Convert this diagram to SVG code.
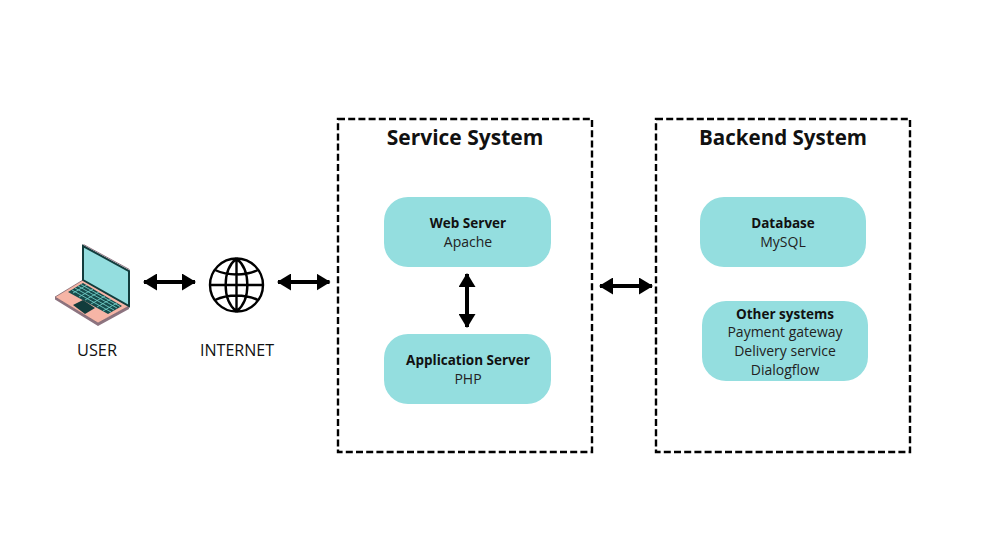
<svg xmlns="http://www.w3.org/2000/svg" width="984" height="554" viewBox="0 0 984 554">
<style>
text{font-family:"Open Sans","Noto Sans","Liberation Sans",sans-serif;fill:#111;text-anchor:middle}
.t{font-size:21px;font-weight:700}
.b{font-size:13.500px;font-weight:700}
.r{font-size:14px;fill:#222}
.l{font-size:16px;font-weight:400;fill:#111}
.sys{fill:none;stroke:#000;stroke-width:2.4;stroke-dasharray:7 3.2}
.box{fill:#94dedf}
.conn{fill:none;stroke:#000;stroke-width:4}
.head{fill:#000}
.g{fill:none;stroke:#000;stroke-width:2.400}
.key{fill:none;stroke:#6fc9c4;stroke-width:.9}
</style>
<defs>
<marker id="ah" viewBox="0 0 14 17" refX="13" refY="8.500" markerUnits="userSpaceOnUse" markerWidth="14" markerHeight="17" orient="auto-start-reverse"><path class="head" d="M0 0L14 8.500L0 17Z"/></marker>
</defs>
<rect width="984" height="554" fill="#fff"/>
<g id="service-system">
<rect class="sys" x="338" y="119" width="254" height="333"/>
<text class="t" x="465" y="145">Service System</text>
</g>
<g id="backend-system">
<rect class="sys" x="656" y="119" width="254" height="333"/>
<text class="t" x="783" y="145" textLength="168" lengthAdjust="spacingAndGlyphs">Backend System</text>
</g>
<g id="web-server">
<rect class="box" x="384" y="197" width="167" height="70" rx="24"/>
<text class="b" x="468" y="228">Web Server</text>
<text class="r" x="468" y="247">Apache</text>
</g>
<g id="application-server">
<rect class="box" x="384" y="334" width="167" height="70" rx="24"/>
<text class="b" x="468" y="365">Application Server</text>
<text class="r" x="468" y="384">PHP</text>
</g>
<g id="database">
<rect class="box" x="700" y="197" width="166" height="70" rx="24"/>
<text class="b" x="783" y="228">Database</text>
<text class="r" x="783" y="247">MySQL</text>
</g>
<g id="other-systems">
<rect class="box" x="702" y="301" width="166" height="80" rx="24"/>
<text class="b" x="785" y="319">Other systems</text>
<text class="r" x="785" y="337">Payment gateway</text>
<text class="r" x="785" y="356">Delivery service</text>
<text class="r" x="785" y="375">Dialogflow</text>
</g>
<g id="user">
<path d="M55 297L55 299.500L98 326L129 309L129 306L98 323Z" fill="#8d7480"/>
<path d="M55 297L83 280L129 306L98 323Z" fill="#f6b5a6" stroke="#6d5560" stroke-width=".7"/>
<path d="M83 246L129 271L129 306L83 280Z" fill="#94dedf" stroke="#123c3c" stroke-width="2"/>
<path d="M83 246L129 271" fill="none" stroke="#8d7480" stroke-width="1" transform="translate(.5 -1.500)"/>
<path d="M68 292L83 283L122 306L108 314Z" fill="#174c4c"/>
<path class="key" d="M72 290L111 312M75 288L114 310M78 286L117 308M81 284.500L120 306.500M73 293L87 285M79 297L93 289M85 300L99 292M91 304L105 296M97 307L111 299M103 311L117 303"/>
<path d="M73 305L83 300L95 308L85 314Z" fill="#123c3c"/>
<text class="l" x="97" y="356" textLength="40" lengthAdjust="spacingAndGlyphs">USER</text>
</g>
<g id="internet">
<circle class="g" cx="236.500" cy="285" r="26.500"/>
<path class="g" d="M236.500 258.500V311.500M210 285H263M236.500 258.500C222 270 222 300 236.500 311.500M236.500 258.500C251 270 251 300 236.500 311.500M215 270C228 276 245 276 258 270M215 300C228 294 245 294 258 300"/>
<text class="l" x="237" y="356" textLength="74" lengthAdjust="spacingAndGlyphs">INTERNET</text>
</g>
<g id="connectors">
<path class="conn" d="M144 282H195" marker-start="url(#ah)" marker-end="url(#ah)"/>
<path class="conn" d="M278 282H329.500" marker-start="url(#ah)" marker-end="url(#ah)"/>
<path class="conn" d="M600 286H652" marker-start="url(#ah)" marker-end="url(#ah)"/>
<path class="conn" d="M467 274V327" marker-start="url(#ah)" marker-end="url(#ah)"/>
</g>
</svg>
